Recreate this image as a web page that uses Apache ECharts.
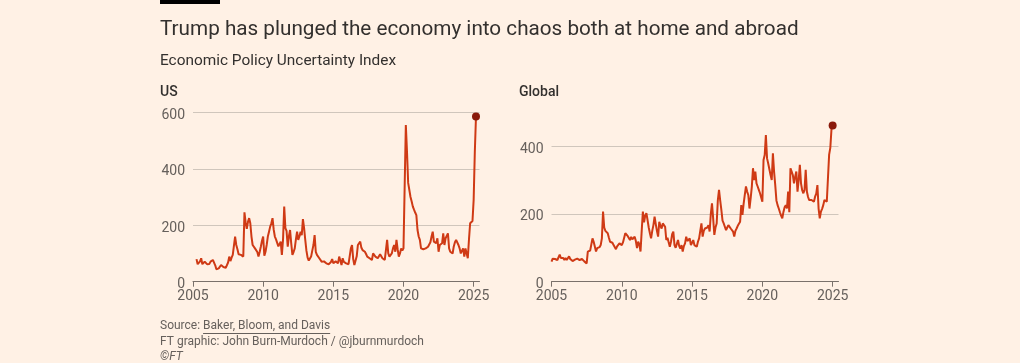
<!DOCTYPE html>
<html><head><meta charset="utf-8">
<script src="https://cdn.jsdelivr.net/npm/echarts@6/dist/echarts.min.js"></script>
<style>html,body{margin:0;padding:0;background:#fff1e5;}#c{width:1020px;height:363px;}</style>
</head><body><div id="c"></div>
<script>
const startYear = 2005;
const monthCount = 246; // Jan 2005 .. Jun 2025 axis span
const categories = [];
for (let i = 0; i < monthCount; i++) {
  const y = startYear + Math.floor(i / 12), m = (i % 12) + 1;
  categories.push(y + '-' + (m < 10 ? '0' : '') + m);
}
const xTickYears = [2005, 2010, 2015, 2020, 2025];
const usTicks = [0, 200, 400, 600];
const globalTicks = [0, 200, 400];

const usValues = [
  null,null,null,80,62,68,72,83,62,66,71,64,
  62,56,63,71,72,77,74,58,44,46,47,52,
  59,55,52,51,49,51,68,89,73,85,95,100,
  160,130,115,97,100,95,92,89,246,210,187,212,
  225,207,160,130,125,118,121,105,89,105,124,145,
  160,92,106,130,160,177,195,207,225,185,160,150,
  148,125,118,142,95,150,266,190,180,124,160,183,
  136,95,105,118,150,177,148,160,177,165,222,190,
  148,110,85,75,80,89,110,130,165,106,95,89,
  83,78,71,75,72,71,65,59,62,62,70,80,
  65,68,72,71,65,89,75,59,83,70,73,65,
  59,62,62,118,130,80,59,53,90,130,136,142,
  120,112,108,106,98,89,85,83,80,77,100,106,
  89,85,83,90,97,90,83,89,77,83,148,100,
  89,83,100,118,130,106,148,115,89,100,118,110,
  118,115,555,460,350,343,300,284,266,255,245,236,
  183,160,148,118,112,115,118,118,122,124,130,140,
  160,177,142,140,136,154,106,130,135,136,171,130,
  154,160,171,118,106,105,100,125,140,148,142,130,
  118,100,110,118,89,118,100,83,150,207,205,215,
  290,460,585
];

const globalValues = [
  59,68,71,67,71,64,65,80,70,72,70,64,
  70,64,67,75,67,63,61,66,65,61,68,65,
  64,66,67,62,60,56,54,89,94,92,89,128,
  118,123,89,99,94,102,108,128,207,160,150,148,
  143,130,118,123,115,108,103,96,104,108,113,110,
  108,116,118,143,138,135,133,123,132,125,128,133,
  120,99,118,110,89,150,207,175,195,202,182,160,
  143,128,150,167,192,170,150,133,177,165,157,172,
  168,162,123,130,133,103,118,140,148,108,100,98,
  123,105,98,108,89,105,113,133,120,118,128,108,
  115,123,108,105,103,118,128,133,172,133,150,157,
  152,160,167,148,200,231,187,138,160,172,241,271,
  240,212,180,172,167,152,160,167,162,157,155,148,
  133,150,157,165,170,177,226,197,230,256,281,266,
  256,216,246,280,335,300,325,290,281,271,261,256,
  236,359,374,433,364,349,349,315,300,379,325,285,
  240,226,216,205,195,187,206,220,226,216,266,205,
  335,325,315,290,310,325,266,300,345,290,270,261,
  271,330,266,250,241,236,241,238,236,251,260,285,
  216,187,207,215,226,241,238,236,238,375,395,450,
  461
];

const FONT = 'Roboto';
const LINE = '#cf3a15';
const DOT = '#8a1a0b';
const GRID = '#d0c6bc';
const AXIS = '#7a716b';
const LABEL = '#66605c';

function isTick(value) {
  const [y, m] = value.split('-');
  return m === '01' && xTickYears.includes(+y);
}
function xAxis(idx) {
  return {
    type: 'category', gridIndex: idx, data: categories, boundaryGap: false,
    axisLine: { show: true, lineStyle: { color: AXIS, width: 1 } },
    axisTick: { show: true, length: 5, lineStyle: { color: AXIS }, interval: (i, v) => isTick(v), alignWithLabel: true },
    axisLabel: { interval: (i, v) => isTick(v), formatter: v => v.slice(0, 4), color: LABEL, fontFamily: FONT, fontSize: 14, margin: 8 },
    splitLine: { show: false }
  };
}
function yAxis(idx, max, ticks) {
  return {
    type: 'value', gridIndex: idx, min: 0, max: max, interval: 200,
    axisLine: { show: false }, axisTick: { show: false },
    axisLabel: { color: LABEL, fontFamily: FONT, fontSize: 14, margin: 8, showMaxLabel: ticks.includes(max),
      verticalAlign: 'top', lineHeight: 6, formatter: v => ticks.includes(v) ? String(v) : '' },
    splitLine: { show: true, showMaxLine: ticks.includes(max), lineStyle: { color: GRID, width: 1 } }
  };
}
function lastPoint(vals) {
  let i = vals.length - 1;
  return [[categories[i], vals[i]]];
}

const FOOT = '12px ' + FONT;
const mctx = document.createElement('canvas').getContext('2d');
mctx.font = FOOT;
const srcPrefix = 'Source: ', srcName = 'Baker, Bloom, and Davis';
const prefixW = mctx.measureText(srcPrefix).width;
const nameW = mctx.measureText(srcName).width;

const chart = echarts.init(document.getElementById('c'), null, { renderer: 'canvas' });
chart.setOption({
  backgroundColor: '#fff1e5',
  animation: false,
  grid: [
    { left: 193, top: 112.3, width: 286.5, height: 169.4, containLabel: false },
    { left: 551.5, top: 112.3, width: 287, height: 169.4, containLabel: false }
  ],
  xAxis: [xAxis(0), xAxis(1)],
  yAxis: [yAxis(0, 600, usTicks), yAxis(1, 500, globalTicks)],
  series: [
    { type: 'line', xAxisIndex: 0, yAxisIndex: 0, data: usValues, showSymbol: false, connectNulls: false,
      lineStyle: { color: LINE, width: 2 }, z: 3 },
    { type: 'line', xAxisIndex: 1, yAxisIndex: 1, data: globalValues, showSymbol: false,
      lineStyle: { color: LINE, width: 2 }, z: 3 },
    { type: 'scatter', xAxisIndex: 0, yAxisIndex: 0, data: lastPoint(usValues), symbolSize: 8,
      itemStyle: { color: DOT, opacity: 1 }, z: 4 },
    { type: 'scatter', xAxisIndex: 1, yAxisIndex: 1, data: lastPoint(globalValues), symbolSize: 8,
      itemStyle: { color: DOT, opacity: 1 }, z: 4 }
  ],
  graphic: [
    { type: 'rect', left: 160, top: 0, shape: { width: 60, height: 4 }, style: { fill: '#000' } },
    { type: 'text', left: 160, top: 19.5, style: { text: 'Trump has plunged the economy into chaos both at home and abroad', font: '20.7px ' + FONT, fill: '#33302e' } },
    { type: 'text', left: 160, top: 54, style: { text: 'Economic Policy Uncertainty Index', font: '15.4px ' + FONT, fill: '#33302e' } },
    { type: 'text', left: 160, top: 85.5, style: { text: 'US', font: '500 14px ' + FONT, fill: '#33302e' } },
    { type: 'text', left: 519, top: 85.5, style: { text: 'Global', font: '500 14px ' + FONT, fill: '#33302e' } },
    { type: 'text', left: 160, top: 320, style: { text: srcPrefix + srcName, font: FOOT, fill: '#66605c' } },
    { type: 'rect', left: 160 + prefixW, top: 333, shape: { width: nameW, height: 1 }, style: { fill: '#66605c' } },
    { type: 'text', left: 160, top: 336, style: { text: 'FT graphic: John Burn-Murdoch / @jburnmurdoch', font: FOOT, fill: '#66605c' } },
    { type: 'text', left: 160, top: 351, style: { text: '©FT', font: 'italic ' + FOOT, fill: '#66605c' } }
  ]
});
</script></body></html>
